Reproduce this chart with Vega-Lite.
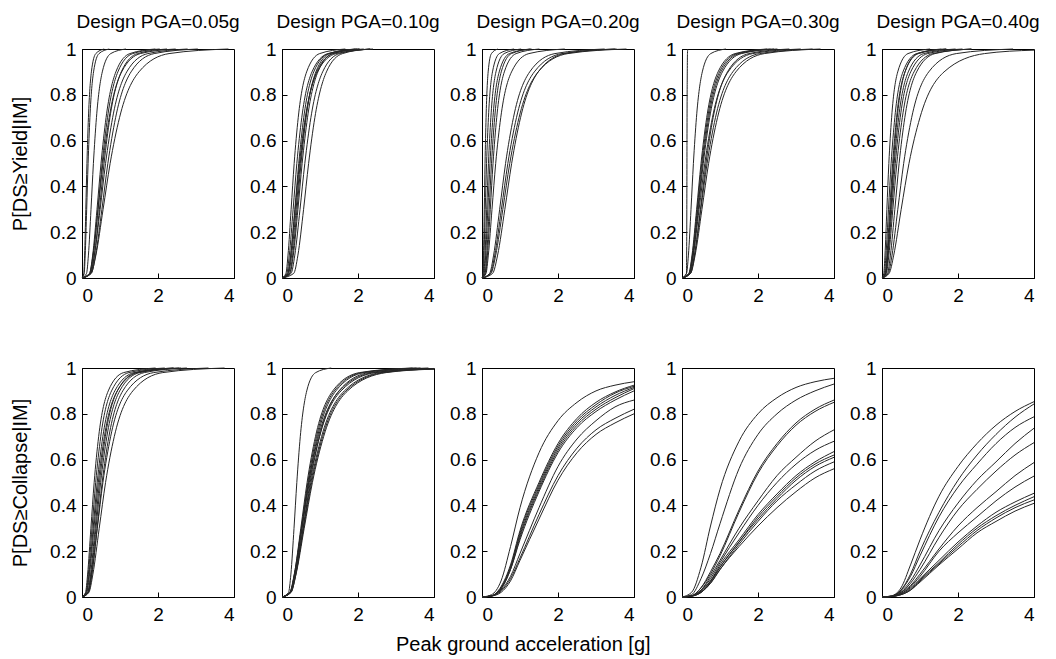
{
"$schema": "https://vega.github.io/schema/vega-lite/v6.json",
"background": "white",
"padding": {"left": 10, "top": 12, "right": 5, "bottom": 5},
"config": {
  "font": "Liberation Sans",
  "view": {"stroke": "black", "strokeWidth": 1},
  "axis": {"grid": false, "domainColor": "black", "domainWidth": 1, "tickColor": "black", "tickSize": -5, "labelColor": "black", "labelFont": "Liberation Sans", "labelFontSize": 19, "titleFont": "Liberation Sans", "titleFontSize": 20, "titleFontWeight": "normal", "titleColor": "black", "titlePadding": 19},
  "axisX": {"labelPadding": 13},
  "axisY": {"labelPadding": 11},
  "title": {"font": "Liberation Sans", "fontSize": 19, "fontWeight": "normal", "color": "black", "frame": "group", "offset": 8},
  "line": {"stroke": "#262626", "strokeWidth": 1, "interpolate": "monotone"}
},
"datasets": {
"Y1": [
{"c":1,"x":0,"y":0},{"c":1,"x":0.047,"y":0.02},{"c":1,"x":0.069,"y":0.1},{"c":1,"x":0.1,"y":0.3},{"c":1,"x":0.13,"y":0.5},{"c":1,"x":0.169,"y":0.7},{"c":1,"x":0.247,"y":0.9},{"c":1,"x":0.363,"y":0.98},{"c":1,"x":0.583,"y":1},
{"c":2,"x":0,"y":0},{"c":2,"x":0.057,"y":0.02},{"c":2,"x":0.084,"y":0.1},{"c":2,"x":0.123,"y":0.3},{"c":2,"x":0.16,"y":0.5},{"c":2,"x":0.208,"y":0.7},{"c":2,"x":0.304,"y":0.9},{"c":2,"x":0.447,"y":0.98},{"c":2,"x":0.717,"y":1},
{"c":3,"x":0,"y":0},{"c":3,"x":0.119,"y":0.02},{"c":3,"x":0.169,"y":0.1},{"c":3,"x":0.237,"y":0.3},{"c":3,"x":0.3,"y":0.5},{"c":3,"x":0.38,"y":0.7},{"c":3,"x":0.534,"y":0.9},{"c":3,"x":0.756,"y":0.98},{"c":3,"x":1.157,"y":1},
{"c":4,"x":0,"y":0},{"c":4,"x":0.199,"y":0.02},{"c":4,"x":0.281,"y":0.1},{"c":4,"x":0.395,"y":0.3},{"c":4,"x":0.5,"y":0.5},{"c":4,"x":0.633,"y":0.7},{"c":4,"x":0.891,"y":0.9},{"c":4,"x":1.26,"y":0.98},{"c":4,"x":1.929,"y":1},
{"c":5,"x":0,"y":0},{"c":5,"x":0.21,"y":0.02},{"c":5,"x":0.298,"y":0.1},{"c":5,"x":0.419,"y":0.3},{"c":5,"x":0.53,"y":0.5},{"c":5,"x":0.671,"y":0.7},{"c":5,"x":0.944,"y":0.9},{"c":5,"x":1.335,"y":0.98},{"c":5,"x":2.044,"y":1},
{"c":6,"x":0,"y":0},{"c":6,"x":0.197,"y":0.02},{"c":6,"x":0.29,"y":0.1},{"c":6,"x":0.424,"y":0.3},{"c":6,"x":0.55,"y":0.5},{"c":6,"x":0.715,"y":0.7},{"c":6,"x":1.044,"y":0.9},{"c":6,"x":1.536,"y":0.98},{"c":6,"x":2.465,"y":1},
{"c":7,"x":0,"y":0},{"c":7,"x":0.23,"y":0.02},{"c":7,"x":0.326,"y":0.1},{"c":7,"x":0.458,"y":0.3},{"c":7,"x":0.58,"y":0.5},{"c":7,"x":0.734,"y":0.7},{"c":7,"x":1.033,"y":0.9},{"c":7,"x":1.461,"y":0.98},{"c":7,"x":2.237,"y":1},
{"c":8,"x":0,"y":0},{"c":8,"x":0.222,"y":0.02},{"c":8,"x":0.327,"y":0.1},{"c":8,"x":0.477,"y":0.3},{"c":8,"x":0.62,"y":0.5},{"c":8,"x":0.806,"y":0.7},{"c":8,"x":1.177,"y":0.9},{"c":8,"x":1.732,"y":0.98},{"c":8,"x":2.779,"y":1},
{"c":9,"x":0,"y":0},{"c":9,"x":0.243,"y":0.02},{"c":9,"x":0.358,"y":0.1},{"c":9,"x":0.524,"y":0.3},{"c":9,"x":0.68,"y":0.5},{"c":9,"x":0.884,"y":0.7},{"c":9,"x":1.291,"y":0.9},{"c":9,"x":1.899,"y":0.98},{"c":9,"x":3.048,"y":1},
{"c":10,"x":0,"y":0},{"c":10,"x":0.239,"y":0.02},{"c":10,"x":0.366,"y":0.1},{"c":10,"x":0.555,"y":0.3},{"c":10,"x":0.74,"y":0.5},{"c":10,"x":0.987,"y":0.7},{"c":10,"x":1.498,"y":0.9},{"c":10,"x":2.291,"y":0.98},{"c":10,"x":3.853,"y":1}
],
"Y2": [
{"c":1,"x":0,"y":0},{"c":1,"x":0.103,"y":0.02},{"c":1,"x":0.158,"y":0.1},{"c":1,"x":0.24,"y":0.3},{"c":1,"x":0.32,"y":0.5},{"c":1,"x":0.427,"y":0.7},{"c":1,"x":0.648,"y":0.9},{"c":1,"x":0.991,"y":0.98},{"c":1,"x":1.666,"y":1},
{"c":2,"x":0,"y":0},{"c":2,"x":0.126,"y":0.02},{"c":2,"x":0.193,"y":0.1},{"c":2,"x":0.293,"y":0.3},{"c":2,"x":0.39,"y":0.5},{"c":2,"x":0.52,"y":0.7},{"c":2,"x":0.789,"y":0.9},{"c":2,"x":1.207,"y":0.98},{"c":2,"x":2.031,"y":1},
{"c":3,"x":0,"y":0},{"c":3,"x":0.158,"y":0.02},{"c":3,"x":0.232,"y":0.1},{"c":3,"x":0.339,"y":0.3},{"c":3,"x":0.44,"y":0.5},{"c":3,"x":0.572,"y":0.7},{"c":3,"x":0.835,"y":0.9},{"c":3,"x":1.229,"y":0.98},{"c":3,"x":1.972,"y":1},
{"c":4,"x":0,"y":0},{"c":4,"x":0.149,"y":0.02},{"c":4,"x":0.227,"y":0.1},{"c":4,"x":0.345,"y":0.3},{"c":4,"x":0.46,"y":0.5},{"c":4,"x":0.614,"y":0.7},{"c":4,"x":0.931,"y":0.9},{"c":4,"x":1.424,"y":0.98},{"c":4,"x":2.395,"y":1},
{"c":5,"x":0,"y":0},{"c":5,"x":0.172,"y":0.02},{"c":5,"x":0.253,"y":0.1},{"c":5,"x":0.37,"y":0.3},{"c":5,"x":0.48,"y":0.5},{"c":5,"x":0.624,"y":0.7},{"c":5,"x":0.911,"y":0.9},{"c":5,"x":1.341,"y":0.98},{"c":5,"x":2.151,"y":1},
{"c":6,"x":0,"y":0},{"c":6,"x":0.199,"y":0.02},{"c":6,"x":0.281,"y":0.1},{"c":6,"x":0.395,"y":0.3},{"c":6,"x":0.5,"y":0.5},{"c":6,"x":0.633,"y":0.7},{"c":6,"x":0.891,"y":0.9},{"c":6,"x":1.26,"y":0.98},{"c":6,"x":1.929,"y":1},
{"c":7,"x":0,"y":0},{"c":7,"x":0.21,"y":0.02},{"c":7,"x":0.298,"y":0.1},{"c":7,"x":0.419,"y":0.3},{"c":7,"x":0.53,"y":0.5},{"c":7,"x":0.671,"y":0.7},{"c":7,"x":0.944,"y":0.9},{"c":7,"x":1.335,"y":0.98},{"c":7,"x":2.044,"y":1},
{"c":8,"x":0,"y":0},{"c":8,"x":0.238,"y":0.02},{"c":8,"x":0.337,"y":0.1},{"c":8,"x":0.474,"y":0.3},{"c":8,"x":0.6,"y":0.5},{"c":8,"x":0.76,"y":0.7},{"c":8,"x":1.069,"y":0.9},{"c":8,"x":1.511,"y":0.98},{"c":8,"x":2.314,"y":1},
{"c":9,"x":0,"y":0},{"c":9,"x":0.308,"y":0.02},{"c":9,"x":0.419,"y":0.1},{"c":9,"x":0.568,"y":0.3},{"c":9,"x":0.7,"y":0.5},{"c":9,"x":0.864,"y":0.7},{"c":9,"x":1.169,"y":0.9},{"c":9,"x":1.593,"y":0.98},{"c":9,"x":2.324,"y":1}
],
"Y3": [
{"c":1,"x":0,"y":0},{"c":1,"x":0.026,"y":0.02},{"c":1,"x":0.04,"y":0.1},{"c":1,"x":0.06,"y":0.3},{"c":1,"x":0.08,"y":0.5},{"c":1,"x":0.107,"y":0.7},{"c":1,"x":0.162,"y":0.9},{"c":1,"x":0.248,"y":0.98},{"c":1,"x":0.417,"y":1},
{"c":2,"x":0,"y":0},{"c":2,"x":0.032,"y":0.02},{"c":2,"x":0.052,"y":0.1},{"c":2,"x":0.085,"y":0.3},{"c":2,"x":0.12,"y":0.5},{"c":2,"x":0.169,"y":0.7},{"c":2,"x":0.276,"y":0.9},{"c":2,"x":0.456,"y":0.98},{"c":2,"x":0.843,"y":1},
{"c":3,"x":0,"y":0},{"c":3,"x":0.05,"y":0.02},{"c":3,"x":0.079,"y":0.1},{"c":3,"x":0.124,"y":0.3},{"c":3,"x":0.17,"y":0.5},{"c":3,"x":0.233,"y":0.7},{"c":3,"x":0.367,"y":0.9},{"c":3,"x":0.583,"y":0.98},{"c":3,"x":1.029,"y":1},
{"c":4,"x":0,"y":0},{"c":4,"x":0.061,"y":0.02},{"c":4,"x":0.097,"y":0.1},{"c":4,"x":0.153,"y":0.3},{"c":4,"x":0.21,"y":0.5},{"c":4,"x":0.287,"y":0.7},{"c":4,"x":0.453,"y":0.9},{"c":4,"x":0.72,"y":0.98},{"c":4,"x":1.271,"y":1},
{"c":5,"x":0,"y":0},{"c":5,"x":0.081,"y":0.02},{"c":5,"x":0.124,"y":0.1},{"c":5,"x":0.188,"y":0.3},{"c":5,"x":0.25,"y":0.5},{"c":5,"x":0.334,"y":0.7},{"c":5,"x":0.506,"y":0.9},{"c":5,"x":0.774,"y":0.98},{"c":5,"x":1.302,"y":1},
{"c":6,"x":0,"y":0},{"c":6,"x":0.094,"y":0.02},{"c":6,"x":0.143,"y":0.1},{"c":6,"x":0.218,"y":0.3},{"c":6,"x":0.29,"y":0.5},{"c":6,"x":0.387,"y":0.7},{"c":6,"x":0.587,"y":0.9},{"c":6,"x":0.898,"y":0.98},{"c":6,"x":1.51,"y":1},
{"c":7,"x":0,"y":0},{"c":7,"x":0.105,"y":0.02},{"c":7,"x":0.167,"y":0.1},{"c":7,"x":0.263,"y":0.3},{"c":7,"x":0.36,"y":0.5},{"c":7,"x":0.493,"y":0.7},{"c":7,"x":0.777,"y":0.9},{"c":7,"x":1.234,"y":0.98},{"c":7,"x":2.178,"y":1},
{"c":8,"x":0,"y":0},{"c":8,"x":0.2,"y":0.02},{"c":8,"x":0.306,"y":0.1},{"c":8,"x":0.465,"y":0.3},{"c":8,"x":0.62,"y":0.5},{"c":8,"x":0.827,"y":0.7},{"c":8,"x":1.255,"y":0.9},{"c":8,"x":1.92,"y":0.98},{"c":8,"x":3.228,"y":1},
{"c":9,"x":0,"y":0},{"c":9,"x":0.22,"y":0.02},{"c":9,"x":0.336,"y":0.1},{"c":9,"x":0.51,"y":0.3},{"c":9,"x":0.68,"y":0.5},{"c":9,"x":0.907,"y":0.7},{"c":9,"x":1.376,"y":0.9},{"c":9,"x":2.105,"y":0.98},{"c":9,"x":3.541,"y":1},
{"c":10,"x":0,"y":0},{"c":10,"x":0.236,"y":0.02},{"c":10,"x":0.361,"y":0.1},{"c":10,"x":0.548,"y":0.3},{"c":10,"x":0.73,"y":0.5},{"c":10,"x":0.974,"y":0.7},{"c":10,"x":1.478,"y":0.9},{"c":10,"x":2.26,"y":0.98},{"c":10,"x":3.801,"y":1},
{"c":11,"x":0,"y":0},{"c":11,"x":0.279,"y":0.02},{"c":11,"x":0.411,"y":0.1},{"c":11,"x":0.601,"y":0.3},{"c":11,"x":0.78,"y":0.5},{"c":11,"x":1.014,"y":0.7},{"c":11,"x":1.48,"y":0.9},{"c":11,"x":2.179,"y":0.98},{"c":11,"x":3.496,"y":1}
],
"Y4": [
{"c":1,"x":0,"y":0},{"c":1,"x":0.117,"y":0.02},{"c":1,"x":0.122,"y":0.1},{"c":1,"x":0.127,"y":0.3},{"c":1,"x":0.13,"y":0.5},{"c":1,"x":0.133,"y":0.7},{"c":1,"x":0.139,"y":0.9},{"c":1,"x":0.144,"y":0.98},{"c":1,"x":0.151,"y":1},
{"c":2,"x":0,"y":0},{"c":2,"x":0.119,"y":0.02},{"c":2,"x":0.169,"y":0.1},{"c":2,"x":0.237,"y":0.3},{"c":2,"x":0.3,"y":0.5},{"c":2,"x":0.38,"y":0.7},{"c":2,"x":0.534,"y":0.9},{"c":2,"x":0.756,"y":0.98},{"c":2,"x":1.157,"y":1},
{"c":3,"x":0,"y":0},{"c":3,"x":0.179,"y":0.02},{"c":3,"x":0.264,"y":0.1},{"c":3,"x":0.385,"y":0.3},{"c":3,"x":0.5,"y":0.5},{"c":3,"x":0.65,"y":0.7},{"c":3,"x":0.949,"y":0.9},{"c":3,"x":1.397,"y":0.98},{"c":3,"x":2.241,"y":1},
{"c":4,"x":0,"y":0},{"c":4,"x":0.186,"y":0.02},{"c":4,"x":0.274,"y":0.1},{"c":4,"x":0.4,"y":0.3},{"c":4,"x":0.52,"y":0.5},{"c":4,"x":0.676,"y":0.7},{"c":4,"x":0.987,"y":0.9},{"c":4,"x":1.452,"y":0.98},{"c":4,"x":2.331,"y":1},
{"c":5,"x":0,"y":0},{"c":5,"x":0.193,"y":0.02},{"c":5,"x":0.285,"y":0.1},{"c":5,"x":0.416,"y":0.3},{"c":5,"x":0.54,"y":0.5},{"c":5,"x":0.702,"y":0.7},{"c":5,"x":1.025,"y":0.9},{"c":5,"x":1.508,"y":0.98},{"c":5,"x":2.42,"y":1},
{"c":6,"x":0,"y":0},{"c":6,"x":0.2,"y":0.02},{"c":6,"x":0.295,"y":0.1},{"c":6,"x":0.431,"y":0.3},{"c":6,"x":0.56,"y":0.5},{"c":6,"x":0.728,"y":0.7},{"c":6,"x":1.063,"y":0.9},{"c":6,"x":1.564,"y":0.98},{"c":6,"x":2.51,"y":1},
{"c":7,"x":0,"y":0},{"c":7,"x":0.194,"y":0.02},{"c":7,"x":0.296,"y":0.1},{"c":7,"x":0.45,"y":0.3},{"c":7,"x":0.6,"y":0.5},{"c":7,"x":0.8,"y":0.7},{"c":7,"x":1.214,"y":0.9},{"c":7,"x":1.858,"y":0.98},{"c":7,"x":3.124,"y":1},
{"c":8,"x":0,"y":0},{"c":8,"x":0.226,"y":0.02},{"c":8,"x":0.332,"y":0.1},{"c":8,"x":0.485,"y":0.3},{"c":8,"x":0.63,"y":0.5},{"c":8,"x":0.819,"y":0.7},{"c":8,"x":1.196,"y":0.9},{"c":8,"x":1.76,"y":0.98},{"c":8,"x":2.824,"y":1},
{"c":9,"x":0,"y":0},{"c":9,"x":0.213,"y":0.02},{"c":9,"x":0.326,"y":0.1},{"c":9,"x":0.495,"y":0.3},{"c":9,"x":0.66,"y":0.5},{"c":9,"x":0.88,"y":0.7},{"c":9,"x":1.336,"y":0.9},{"c":9,"x":2.043,"y":0.98},{"c":9,"x":3.437,"y":1},
{"c":10,"x":0,"y":0},{"c":10,"x":0.226,"y":0.02},{"c":10,"x":0.346,"y":0.1},{"c":10,"x":0.525,"y":0.3},{"c":10,"x":0.7,"y":0.5},{"c":10,"x":0.934,"y":0.7},{"c":10,"x":1.417,"y":0.9},{"c":10,"x":2.167,"y":0.98},{"c":10,"x":3.645,"y":1}
],
"Y5": [
{"c":1,"x":0,"y":0},{"c":1,"x":0.047,"y":0.02},{"c":1,"x":0.078,"y":0.1},{"c":1,"x":0.128,"y":0.3},{"c":1,"x":0.18,"y":0.5},{"c":1,"x":0.253,"y":0.7},{"c":1,"x":0.414,"y":0.9},{"c":1,"x":0.684,"y":0.98},{"c":1,"x":1.265,"y":1},
{"c":2,"x":0,"y":0},{"c":2,"x":0.063,"y":0.02},{"c":2,"x":0.104,"y":0.1},{"c":2,"x":0.171,"y":0.3},{"c":2,"x":0.24,"y":0.5},{"c":2,"x":0.337,"y":0.7},{"c":2,"x":0.552,"y":0.9},{"c":2,"x":0.912,"y":0.98},{"c":2,"x":1.687,"y":1},
{"c":3,"x":0,"y":0},{"c":3,"x":0.082,"y":0.02},{"c":3,"x":0.13,"y":0.1},{"c":3,"x":0.204,"y":0.3},{"c":3,"x":0.28,"y":0.5},{"c":3,"x":0.383,"y":0.7},{"c":3,"x":0.604,"y":0.9},{"c":3,"x":0.96,"y":0.98},{"c":3,"x":1.694,"y":1},
{"c":4,"x":0,"y":0},{"c":4,"x":0.097,"y":0.02},{"c":4,"x":0.148,"y":0.1},{"c":4,"x":0.225,"y":0.3},{"c":4,"x":0.3,"y":0.5},{"c":4,"x":0.4,"y":0.7},{"c":4,"x":0.607,"y":0.9},{"c":4,"x":0.929,"y":0.98},{"c":4,"x":1.562,"y":1},
{"c":5,"x":0,"y":0},{"c":5,"x":0.093,"y":0.02},{"c":5,"x":0.148,"y":0.1},{"c":5,"x":0.234,"y":0.3},{"c":5,"x":0.32,"y":0.5},{"c":5,"x":0.438,"y":0.7},{"c":5,"x":0.691,"y":0.9},{"c":5,"x":1.097,"y":0.98},{"c":5,"x":1.936,"y":1},
{"c":6,"x":0,"y":0},{"c":6,"x":0.102,"y":0.02},{"c":6,"x":0.162,"y":0.1},{"c":6,"x":0.256,"y":0.3},{"c":6,"x":0.35,"y":0.5},{"c":6,"x":0.479,"y":0.7},{"c":6,"x":0.755,"y":0.9},{"c":6,"x":1.2,"y":0.98},{"c":6,"x":2.118,"y":1},
{"c":7,"x":0,"y":0},{"c":7,"x":0.114,"y":0.02},{"c":7,"x":0.181,"y":0.1},{"c":7,"x":0.285,"y":0.3},{"c":7,"x":0.39,"y":0.5},{"c":7,"x":0.534,"y":0.7},{"c":7,"x":0.842,"y":0.9},{"c":7,"x":1.337,"y":0.98},{"c":7,"x":2.36,"y":1},
{"c":8,"x":0,"y":0},{"c":8,"x":0.145,"y":0.02},{"c":8,"x":0.222,"y":0.1},{"c":8,"x":0.338,"y":0.3},{"c":8,"x":0.45,"y":0.5},{"c":8,"x":0.6,"y":0.7},{"c":8,"x":0.911,"y":0.9},{"c":8,"x":1.393,"y":0.98},{"c":8,"x":2.343,"y":1},
{"c":9,"x":0,"y":0},{"c":9,"x":0.166,"y":0.02},{"c":9,"x":0.264,"y":0.1},{"c":9,"x":0.416,"y":0.3},{"c":9,"x":0.57,"y":0.5},{"c":9,"x":0.78,"y":0.7},{"c":9,"x":1.23,"y":0.9},{"c":9,"x":1.955,"y":0.98},{"c":9,"x":3.449,"y":1},
{"c":10,"x":0,"y":0},{"c":10,"x":0.187,"y":0.02},{"c":10,"x":0.309,"y":0.1},{"c":10,"x":0.505,"y":0.3},{"c":10,"x":0.71,"y":0.5},{"c":10,"x":0.998,"y":0.7},{"c":10,"x":1.633,"y":0.9},{"c":10,"x":2.698,"y":0.98},{"c":10,"x":4,"y":0.995}
],
"C1": [
{"c":1,"x":0,"y":0},{"c":1,"x":0.093,"y":0.02},{"c":1,"x":0.148,"y":0.1},{"c":1,"x":0.234,"y":0.3},{"c":1,"x":0.32,"y":0.5},{"c":1,"x":0.438,"y":0.7},{"c":1,"x":0.691,"y":0.9},{"c":1,"x":1.097,"y":0.98},{"c":1,"x":1.936,"y":1},
{"c":2,"x":0,"y":0},{"c":2,"x":0.105,"y":0.02},{"c":2,"x":0.167,"y":0.1},{"c":2,"x":0.263,"y":0.3},{"c":2,"x":0.36,"y":0.5},{"c":2,"x":0.493,"y":0.7},{"c":2,"x":0.777,"y":0.9},{"c":2,"x":1.234,"y":0.98},{"c":2,"x":2.178,"y":1},
{"c":3,"x":0,"y":0},{"c":3,"x":0.117,"y":0.02},{"c":3,"x":0.185,"y":0.1},{"c":3,"x":0.292,"y":0.3},{"c":3,"x":0.4,"y":0.5},{"c":3,"x":0.548,"y":0.7},{"c":3,"x":0.863,"y":0.9},{"c":3,"x":1.372,"y":0.98},{"c":3,"x":2.42,"y":1},
{"c":4,"x":0,"y":0},{"c":4,"x":0.126,"y":0.02},{"c":4,"x":0.199,"y":0.1},{"c":4,"x":0.314,"y":0.3},{"c":4,"x":0.43,"y":0.5},{"c":4,"x":0.589,"y":0.7},{"c":4,"x":0.928,"y":0.9},{"c":4,"x":1.474,"y":0.98},{"c":4,"x":2.602,"y":1},
{"c":5,"x":0,"y":0},{"c":5,"x":0.149,"y":0.02},{"c":5,"x":0.227,"y":0.1},{"c":5,"x":0.345,"y":0.3},{"c":5,"x":0.46,"y":0.5},{"c":5,"x":0.614,"y":0.7},{"c":5,"x":0.931,"y":0.9},{"c":5,"x":1.424,"y":0.98},{"c":5,"x":2.395,"y":1},
{"c":6,"x":0,"y":0},{"c":6,"x":0.158,"y":0.02},{"c":6,"x":0.242,"y":0.1},{"c":6,"x":0.368,"y":0.3},{"c":6,"x":0.49,"y":0.5},{"c":6,"x":0.654,"y":0.7},{"c":6,"x":0.992,"y":0.9},{"c":6,"x":1.517,"y":0.98},{"c":6,"x":2.551,"y":1},
{"c":7,"x":0,"y":0},{"c":7,"x":0.171,"y":0.02},{"c":7,"x":0.262,"y":0.1},{"c":7,"x":0.398,"y":0.3},{"c":7,"x":0.53,"y":0.5},{"c":7,"x":0.707,"y":0.7},{"c":7,"x":1.073,"y":0.9},{"c":7,"x":1.641,"y":0.98},{"c":7,"x":2.76,"y":1},
{"c":8,"x":0,"y":0},{"c":8,"x":0.161,"y":0.02},{"c":8,"x":0.255,"y":0.1},{"c":8,"x":0.402,"y":0.3},{"c":8,"x":0.55,"y":0.5},{"c":8,"x":0.753,"y":0.7},{"c":8,"x":1.187,"y":0.9},{"c":8,"x":1.886,"y":0.98},{"c":8,"x":3.328,"y":1},
{"c":9,"x":0,"y":0},{"c":9,"x":0.181,"y":0.02},{"c":9,"x":0.287,"y":0.1},{"c":9,"x":0.453,"y":0.3},{"c":9,"x":0.62,"y":0.5},{"c":9,"x":0.849,"y":0.7},{"c":9,"x":1.338,"y":0.9},{"c":9,"x":2.126,"y":0.98},{"c":9,"x":3.751,"y":1}
],
"C2": [
{"c":1,"x":0,"y":0},{"c":1,"x":0.172,"y":0.02},{"c":1,"x":0.234,"y":0.1},{"c":1,"x":0.316,"y":0.3},{"c":1,"x":0.39,"y":0.5},{"c":1,"x":0.481,"y":0.7},{"c":1,"x":0.651,"y":0.9},{"c":1,"x":0.887,"y":0.98},{"c":1,"x":1.295,"y":1},
{"c":2,"x":0,"y":0},{"c":2,"x":0.213,"y":0.02},{"c":2,"x":0.326,"y":0.1},{"c":2,"x":0.495,"y":0.3},{"c":2,"x":0.66,"y":0.5},{"c":2,"x":0.88,"y":0.7},{"c":2,"x":1.336,"y":0.9},{"c":2,"x":2.043,"y":0.98},{"c":2,"x":3.437,"y":1},
{"c":3,"x":0,"y":0},{"c":3,"x":0.22,"y":0.02},{"c":3,"x":0.336,"y":0.1},{"c":3,"x":0.51,"y":0.3},{"c":3,"x":0.68,"y":0.5},{"c":3,"x":0.907,"y":0.7},{"c":3,"x":1.376,"y":0.9},{"c":3,"x":2.105,"y":0.98},{"c":3,"x":3.541,"y":1},
{"c":4,"x":0,"y":0},{"c":4,"x":0.226,"y":0.02},{"c":4,"x":0.346,"y":0.1},{"c":4,"x":0.525,"y":0.3},{"c":4,"x":0.7,"y":0.5},{"c":4,"x":0.934,"y":0.7},{"c":4,"x":1.417,"y":0.9},{"c":4,"x":2.167,"y":0.98},{"c":4,"x":3.645,"y":1},
{"c":5,"x":0,"y":0},{"c":5,"x":0.204,"y":0.02},{"c":5,"x":0.324,"y":0.1},{"c":5,"x":0.511,"y":0.3},{"c":5,"x":0.7,"y":0.5},{"c":5,"x":0.958,"y":0.7},{"c":5,"x":1.511,"y":0.9},{"c":5,"x":2.4,"y":0.98},{"c":5,"x":4,"y":0.998},
{"c":6,"x":0,"y":0},{"c":6,"x":0.21,"y":0.02},{"c":6,"x":0.333,"y":0.1},{"c":6,"x":0.526,"y":0.3},{"c":6,"x":0.72,"y":0.5},{"c":6,"x":0.986,"y":0.7},{"c":6,"x":1.554,"y":0.9},{"c":6,"x":2.469,"y":0.98},{"c":6,"x":4,"y":0.997},
{"c":7,"x":0,"y":0},{"c":7,"x":0.239,"y":0.02},{"c":7,"x":0.366,"y":0.1},{"c":7,"x":0.555,"y":0.3},{"c":7,"x":0.74,"y":0.5},{"c":7,"x":0.987,"y":0.7},{"c":7,"x":1.498,"y":0.9},{"c":7,"x":2.291,"y":0.98},{"c":7,"x":3.853,"y":1},
{"c":8,"x":0,"y":0},{"c":8,"x":0.222,"y":0.02},{"c":8,"x":0.352,"y":0.1},{"c":8,"x":0.555,"y":0.3},{"c":8,"x":0.76,"y":0.5},{"c":8,"x":1.04,"y":0.7},{"c":8,"x":1.64,"y":0.9},{"c":8,"x":2.606,"y":0.98},{"c":8,"x":4,"y":0.996},
{"c":9,"x":0,"y":0},{"c":9,"x":0.228,"y":0.02},{"c":9,"x":0.361,"y":0.1},{"c":9,"x":0.569,"y":0.3},{"c":9,"x":0.78,"y":0.5},{"c":9,"x":1.068,"y":0.7},{"c":9,"x":1.683,"y":0.9},{"c":9,"x":2.675,"y":0.98},{"c":9,"x":4,"y":0.996},
{"c":10,"x":0,"y":0},{"c":10,"x":0.234,"y":0.02},{"c":10,"x":0.37,"y":0.1},{"c":10,"x":0.584,"y":0.3},{"c":10,"x":0.8,"y":0.5},{"c":10,"x":1.095,"y":0.7},{"c":10,"x":1.726,"y":0.9},{"c":10,"x":2.743,"y":0.98},{"c":10,"x":4,"y":0.995}
],
"C3": [
{"c":1,"x":0,"y":0},{"c":1,"x":0.25,"y":0.01},{"c":1,"x":0.5,"y":0.07},{"c":1,"x":0.75,"y":0.22},{"c":1,"x":1,"y":0.39},{"c":1,"x":1.5,"y":0.63},{"c":1,"x":2,"y":0.77},{"c":1,"x":2.5,"y":0.85},{"c":1,"x":3,"y":0.9},{"c":1,"x":3.5,"y":0.925},{"c":1,"x":4,"y":0.94},
{"c":2,"x":0,"y":0},{"c":2,"x":0.25,"y":0.005},{"c":2,"x":0.5,"y":0.045},{"c":2,"x":0.75,"y":0.14},{"c":2,"x":1,"y":0.29},{"c":2,"x":1.5,"y":0.5},{"c":2,"x":2,"y":0.67},{"c":2,"x":2.5,"y":0.78},{"c":2,"x":3,"y":0.85},{"c":2,"x":3.5,"y":0.895},{"c":2,"x":4,"y":0.925},
{"c":3,"x":0,"y":0},{"c":3,"x":0.25,"y":0.005},{"c":3,"x":0.5,"y":0.04},{"c":3,"x":0.75,"y":0.13},{"c":3,"x":1,"y":0.28},{"c":3,"x":1.5,"y":0.49},{"c":3,"x":2,"y":0.66},{"c":3,"x":2.5,"y":0.77},{"c":3,"x":3,"y":0.84},{"c":3,"x":3.5,"y":0.89},{"c":3,"x":4,"y":0.92},
{"c":4,"x":0,"y":0},{"c":4,"x":0.25,"y":0.005},{"c":4,"x":0.5,"y":0.04},{"c":4,"x":0.75,"y":0.13},{"c":4,"x":1,"y":0.27},{"c":4,"x":1.5,"y":0.48},{"c":4,"x":2,"y":0.65},{"c":4,"x":2.5,"y":0.76},{"c":4,"x":3,"y":0.83},{"c":4,"x":3.5,"y":0.88},{"c":4,"x":4,"y":0.915},
{"c":5,"x":0,"y":0},{"c":5,"x":0.25,"y":0.005},{"c":5,"x":0.5,"y":0.035},{"c":5,"x":0.75,"y":0.12},{"c":5,"x":1,"y":0.26},{"c":5,"x":1.5,"y":0.47},{"c":5,"x":2,"y":0.64},{"c":5,"x":2.5,"y":0.75},{"c":5,"x":3,"y":0.82},{"c":5,"x":3.5,"y":0.87},{"c":5,"x":4,"y":0.91},
{"c":6,"x":0,"y":0},{"c":6,"x":0.25,"y":0.005},{"c":6,"x":0.5,"y":0.035},{"c":6,"x":0.75,"y":0.12},{"c":6,"x":1,"y":0.25},{"c":6,"x":1.5,"y":0.46},{"c":6,"x":2,"y":0.63},{"c":6,"x":2.5,"y":0.74},{"c":6,"x":3,"y":0.81},{"c":6,"x":3.5,"y":0.86},{"c":6,"x":4,"y":0.9},
{"c":7,"x":0,"y":0},{"c":7,"x":0.25,"y":0.004},{"c":7,"x":0.5,"y":0.03},{"c":7,"x":0.75,"y":0.09},{"c":7,"x":1,"y":0.19},{"c":7,"x":1.5,"y":0.39},{"c":7,"x":2,"y":0.57},{"c":7,"x":2.5,"y":0.69},{"c":7,"x":3,"y":0.77},{"c":7,"x":3.5,"y":0.83},{"c":7,"x":4,"y":0.86},
{"c":8,"x":0,"y":0},{"c":8,"x":0.25,"y":0.004},{"c":8,"x":0.5,"y":0.025},{"c":8,"x":0.75,"y":0.08},{"c":8,"x":1,"y":0.17},{"c":8,"x":1.5,"y":0.36},{"c":8,"x":2,"y":0.53},{"c":8,"x":2.5,"y":0.65},{"c":8,"x":3,"y":0.73},{"c":8,"x":3.5,"y":0.78},{"c":8,"x":4,"y":0.82},
{"c":9,"x":0,"y":0},{"c":9,"x":0.25,"y":0.004},{"c":9,"x":0.5,"y":0.02},{"c":9,"x":0.75,"y":0.07},{"c":9,"x":1,"y":0.16},{"c":9,"x":1.5,"y":0.34},{"c":9,"x":2,"y":0.51},{"c":9,"x":2.5,"y":0.63},{"c":9,"x":3,"y":0.71},{"c":9,"x":3.5,"y":0.76},{"c":9,"x":4,"y":0.8}
],
"C4": [
{"c":1,"x":0,"y":0},{"c":1,"x":0.25,"y":0.02},{"c":1,"x":0.5,"y":0.13},{"c":1,"x":0.75,"y":0.31},{"c":1,"x":1,"y":0.47},{"c":1,"x":1.5,"y":0.68},{"c":1,"x":2,"y":0.8},{"c":1,"x":2.5,"y":0.87},{"c":1,"x":3,"y":0.915},{"c":1,"x":3.5,"y":0.94},{"c":1,"x":4,"y":0.955},
{"c":2,"x":0,"y":0},{"c":2,"x":0.25,"y":0.01},{"c":2,"x":0.5,"y":0.08},{"c":2,"x":0.75,"y":0.19},{"c":2,"x":1,"y":0.32},{"c":2,"x":1.5,"y":0.56},{"c":2,"x":2,"y":0.71},{"c":2,"x":2.5,"y":0.8},{"c":2,"x":3,"y":0.86},{"c":2,"x":3.5,"y":0.9},{"c":2,"x":4,"y":0.93},
{"c":3,"x":0,"y":0},{"c":3,"x":0.25,"y":0.005},{"c":3,"x":0.5,"y":0.04},{"c":3,"x":0.75,"y":0.11},{"c":3,"x":1,"y":0.19},{"c":3,"x":1.5,"y":0.38},{"c":3,"x":2,"y":0.55},{"c":3,"x":2.5,"y":0.67},{"c":3,"x":3,"y":0.76},{"c":3,"x":3.5,"y":0.82},{"c":3,"x":4,"y":0.86},
{"c":4,"x":0,"y":0},{"c":4,"x":0.25,"y":0.005},{"c":4,"x":0.5,"y":0.04},{"c":4,"x":0.75,"y":0.1},{"c":4,"x":1,"y":0.18},{"c":4,"x":1.5,"y":0.37},{"c":4,"x":2,"y":0.54},{"c":4,"x":2.5,"y":0.66},{"c":4,"x":3,"y":0.75},{"c":4,"x":3.5,"y":0.81},{"c":4,"x":4,"y":0.85},
{"c":5,"x":0,"y":0},{"c":5,"x":0.25,"y":0.005},{"c":5,"x":0.5,"y":0.03},{"c":5,"x":0.75,"y":0.09},{"c":5,"x":1,"y":0.16},{"c":5,"x":1.5,"y":0.3},{"c":5,"x":2,"y":0.42},{"c":5,"x":2.5,"y":0.53},{"c":5,"x":3,"y":0.61},{"c":5,"x":3.5,"y":0.68},{"c":5,"x":4,"y":0.73},
{"c":6,"x":0,"y":0},{"c":6,"x":0.25,"y":0.005},{"c":6,"x":0.5,"y":0.03},{"c":6,"x":0.75,"y":0.08},{"c":6,"x":1,"y":0.15},{"c":6,"x":1.5,"y":0.28},{"c":6,"x":2,"y":0.4},{"c":6,"x":2.5,"y":0.5},{"c":6,"x":3,"y":0.58},{"c":6,"x":3.5,"y":0.64},{"c":6,"x":4,"y":0.68},
{"c":7,"x":0,"y":0},{"c":7,"x":0.25,"y":0.004},{"c":7,"x":0.5,"y":0.025},{"c":7,"x":0.75,"y":0.07},{"c":7,"x":1,"y":0.14},{"c":7,"x":1.5,"y":0.25},{"c":7,"x":2,"y":0.36},{"c":7,"x":2.5,"y":0.45},{"c":7,"x":3,"y":0.53},{"c":7,"x":3.5,"y":0.59},{"c":7,"x":4,"y":0.635},
{"c":8,"x":0,"y":0},{"c":8,"x":0.25,"y":0.004},{"c":8,"x":0.5,"y":0.025},{"c":8,"x":0.75,"y":0.07},{"c":8,"x":1,"y":0.13},{"c":8,"x":1.5,"y":0.24},{"c":8,"x":2,"y":0.35},{"c":8,"x":2.5,"y":0.44},{"c":8,"x":3,"y":0.52},{"c":8,"x":3.5,"y":0.58},{"c":8,"x":4,"y":0.62},
{"c":9,"x":0,"y":0},{"c":9,"x":0.25,"y":0.004},{"c":9,"x":0.5,"y":0.02},{"c":9,"x":0.75,"y":0.065},{"c":9,"x":1,"y":0.13},{"c":9,"x":1.5,"y":0.24},{"c":9,"x":2,"y":0.34},{"c":9,"x":2.5,"y":0.43},{"c":9,"x":3,"y":0.51},{"c":9,"x":3.5,"y":0.57},{"c":9,"x":4,"y":0.61},
{"c":10,"x":0,"y":0},{"c":10,"x":0.25,"y":0.004},{"c":10,"x":0.5,"y":0.02},{"c":10,"x":0.75,"y":0.06},{"c":10,"x":1,"y":0.12},{"c":10,"x":1.5,"y":0.23},{"c":10,"x":2,"y":0.33},{"c":10,"x":2.5,"y":0.42},{"c":10,"x":3,"y":0.49},{"c":10,"x":3.5,"y":0.55},{"c":10,"x":4,"y":0.59},
{"c":11,"x":0,"y":0},{"c":11,"x":0.25,"y":0.003},{"c":11,"x":0.5,"y":0.02},{"c":11,"x":0.75,"y":0.06},{"c":11,"x":1,"y":0.12},{"c":11,"x":1.5,"y":0.22},{"c":11,"x":2,"y":0.31},{"c":11,"x":2.5,"y":0.39},{"c":11,"x":3,"y":0.46},{"c":11,"x":3.5,"y":0.52},{"c":11,"x":4,"y":0.56}
],
"C5": [
{"c":1,"x":0,"y":0},{"c":1,"x":0.25,"y":0.005},{"c":1,"x":0.5,"y":0.04},{"c":1,"x":0.75,"y":0.14},{"c":1,"x":1,"y":0.25},{"c":1,"x":1.5,"y":0.44},{"c":1,"x":2,"y":0.57},{"c":1,"x":2.5,"y":0.67},{"c":1,"x":3,"y":0.75},{"c":1,"x":3.5,"y":0.81},{"c":1,"x":4,"y":0.853},
{"c":2,"x":0,"y":0},{"c":2,"x":0.25,"y":0.004},{"c":2,"x":0.5,"y":0.03},{"c":2,"x":0.75,"y":0.1},{"c":2,"x":1,"y":0.2},{"c":2,"x":1.5,"y":0.37},{"c":2,"x":2,"y":0.51},{"c":2,"x":2.5,"y":0.62},{"c":2,"x":3,"y":0.71},{"c":2,"x":3.5,"y":0.785},{"c":2,"x":4,"y":0.843},
{"c":3,"x":0,"y":0},{"c":3,"x":0.25,"y":0.004},{"c":3,"x":0.5,"y":0.03},{"c":3,"x":0.75,"y":0.09},{"c":3,"x":1,"y":0.18},{"c":3,"x":1.5,"y":0.35},{"c":3,"x":2,"y":0.48},{"c":3,"x":2.5,"y":0.58},{"c":3,"x":3,"y":0.67},{"c":3,"x":3.5,"y":0.74},{"c":3,"x":4,"y":0.787},
{"c":4,"x":0,"y":0},{"c":4,"x":0.25,"y":0.003},{"c":4,"x":0.5,"y":0.025},{"c":4,"x":0.75,"y":0.07},{"c":4,"x":1,"y":0.14},{"c":4,"x":1.5,"y":0.29},{"c":4,"x":2,"y":0.41},{"c":4,"x":2.5,"y":0.51},{"c":4,"x":3,"y":0.59},{"c":4,"x":3.5,"y":0.67},{"c":4,"x":4,"y":0.737},
{"c":5,"x":0,"y":0},{"c":5,"x":0.25,"y":0.003},{"c":5,"x":0.5,"y":0.02},{"c":5,"x":0.75,"y":0.06},{"c":5,"x":1,"y":0.12},{"c":5,"x":1.5,"y":0.26},{"c":5,"x":2,"y":0.38},{"c":5,"x":2.5,"y":0.47},{"c":5,"x":3,"y":0.55},{"c":5,"x":3.5,"y":0.62},{"c":5,"x":4,"y":0.674},
{"c":6,"x":0,"y":0},{"c":6,"x":0.25,"y":0.003},{"c":6,"x":0.5,"y":0.02},{"c":6,"x":0.75,"y":0.05},{"c":6,"x":1,"y":0.1},{"c":6,"x":1.5,"y":0.21},{"c":6,"x":2,"y":0.31},{"c":6,"x":2.5,"y":0.39},{"c":6,"x":3,"y":0.46},{"c":6,"x":3.5,"y":0.53},{"c":6,"x":4,"y":0.587},
{"c":7,"x":0,"y":0},{"c":7,"x":0.25,"y":0.002},{"c":7,"x":0.5,"y":0.015},{"c":7,"x":0.75,"y":0.045},{"c":7,"x":1,"y":0.09},{"c":7,"x":1.5,"y":0.2},{"c":7,"x":2,"y":0.28},{"c":7,"x":2.5,"y":0.35},{"c":7,"x":3,"y":0.42},{"c":7,"x":3.5,"y":0.48},{"c":7,"x":4,"y":0.528},
{"c":8,"x":0,"y":0},{"c":8,"x":0.25,"y":0.002},{"c":8,"x":0.5,"y":0.015},{"c":8,"x":0.75,"y":0.04},{"c":8,"x":1,"y":0.08},{"c":8,"x":1.5,"y":0.16},{"c":8,"x":2,"y":0.24},{"c":8,"x":2.5,"y":0.31},{"c":8,"x":3,"y":0.37},{"c":8,"x":3.5,"y":0.415},{"c":8,"x":4,"y":0.453},
{"c":9,"x":0,"y":0},{"c":9,"x":0.25,"y":0.002},{"c":9,"x":0.5,"y":0.012},{"c":9,"x":0.75,"y":0.035},{"c":9,"x":1,"y":0.075},{"c":9,"x":1.5,"y":0.15},{"c":9,"x":2,"y":0.23},{"c":9,"x":2.5,"y":0.3},{"c":9,"x":3,"y":0.355},{"c":9,"x":3.5,"y":0.4},{"c":9,"x":4,"y":0.438},
{"c":10,"x":0,"y":0},{"c":10,"x":0.25,"y":0.002},{"c":10,"x":0.5,"y":0.01},{"c":10,"x":0.75,"y":0.03},{"c":10,"x":1,"y":0.07},{"c":10,"x":1.5,"y":0.145},{"c":10,"x":2,"y":0.22},{"c":10,"x":2.5,"y":0.29},{"c":10,"x":3,"y":0.345},{"c":10,"x":3.5,"y":0.39},{"c":10,"x":4,"y":0.424},
{"c":11,"x":0,"y":0},{"c":11,"x":0.25,"y":0.002},{"c":11,"x":0.5,"y":0.01},{"c":11,"x":0.75,"y":0.03},{"c":11,"x":1,"y":0.065},{"c":11,"x":1.5,"y":0.14},{"c":11,"x":2,"y":0.21},{"c":11,"x":2.5,"y":0.28},{"c":11,"x":3,"y":0.33},{"c":11,"x":3.5,"y":0.375},{"c":11,"x":4,"y":0.409}
]
},
"vconcat": [
{"hconcat": [
{"data": {"name": "Y1"}, "title": "Design PGA=0.05g", "width": 152, "height": 229, "mark": "line", "encoding": {"x": {"field": "x", "type": "quantitative", "scale": {"domain": [0, 4]}, "axis": {"values": [0, 2, 4], "title": null}}, "y": {"field": "y", "type": "quantitative", "scale": {"domain": [0, 1]}, "axis": {"values": [0, 0.2, 0.4, 0.6, 0.8, 1], "format": "~g", "title": "P[DS≥Yield|IM]"}}, "detail": {"field": "c", "type": "nominal"}}},
{"data": {"name": "Y2"}, "title": "Design PGA=0.10g", "width": 152, "height": 229, "mark": "line", "encoding": {"x": {"field": "x", "type": "quantitative", "scale": {"domain": [0, 4]}, "axis": {"values": [0, 2, 4], "title": null}}, "y": {"field": "y", "type": "quantitative", "scale": {"domain": [0, 1]}, "axis": {"values": [0, 0.2, 0.4, 0.6, 0.8, 1], "format": "~g", "title": null}}, "detail": {"field": "c", "type": "nominal"}}},
{"data": {"name": "Y3"}, "title": "Design PGA=0.20g", "width": 152, "height": 229, "mark": "line", "encoding": {"x": {"field": "x", "type": "quantitative", "scale": {"domain": [0, 4]}, "axis": {"values": [0, 2, 4], "title": null}}, "y": {"field": "y", "type": "quantitative", "scale": {"domain": [0, 1]}, "axis": {"values": [0, 0.2, 0.4, 0.6, 0.8, 1], "format": "~g", "title": null}}, "detail": {"field": "c", "type": "nominal"}}},
{"data": {"name": "Y4"}, "title": "Design PGA=0.30g", "width": 152, "height": 229, "mark": "line", "encoding": {"x": {"field": "x", "type": "quantitative", "scale": {"domain": [0, 4]}, "axis": {"values": [0, 2, 4], "title": null}}, "y": {"field": "y", "type": "quantitative", "scale": {"domain": [0, 1]}, "axis": {"values": [0, 0.2, 0.4, 0.6, 0.8, 1], "format": "~g", "title": null}}, "detail": {"field": "c", "type": "nominal"}}},
{"data": {"name": "Y5"}, "title": "Design PGA=0.40g", "width": 152, "height": 229, "mark": "line", "encoding": {"x": {"field": "x", "type": "quantitative", "scale": {"domain": [0, 4]}, "axis": {"values": [0, 2, 4], "title": null}}, "y": {"field": "y", "type": "quantitative", "scale": {"domain": [0, 1]}, "axis": {"values": [0, 0.2, 0.4, 0.6, 0.8, 1], "format": "~g", "title": null}}, "detail": {"field": "c", "type": "nominal"}}}
], "spacing": 48, "bounds": "flush"},
{"hconcat": [
{"data": {"name": "C1"}, "width": 152, "height": 229, "mark": "line", "encoding": {"x": {"field": "x", "type": "quantitative", "scale": {"domain": [0, 4]}, "axis": {"values": [0, 2, 4], "title": null}}, "y": {"field": "y", "type": "quantitative", "scale": {"domain": [0, 1]}, "axis": {"values": [0, 0.2, 0.4, 0.6, 0.8, 1], "format": "~g", "title": "P[DS≥Collapse|IM]"}}, "detail": {"field": "c", "type": "nominal"}}},
{"data": {"name": "C2"}, "width": 152, "height": 229, "mark": "line", "encoding": {"x": {"field": "x", "type": "quantitative", "scale": {"domain": [0, 4]}, "axis": {"values": [0, 2, 4], "title": null}}, "y": {"field": "y", "type": "quantitative", "scale": {"domain": [0, 1]}, "axis": {"values": [0, 0.2, 0.4, 0.6, 0.8, 1], "format": "~g", "title": null}}, "detail": {"field": "c", "type": "nominal"}}},
{"data": {"name": "C3"}, "width": 152, "height": 229, "mark": "line", "encoding": {"x": {"field": "x", "type": "quantitative", "scale": {"domain": [0, 4]}, "axis": {"values": [0, 2, 4], "title": null}}, "y": {"field": "y", "type": "quantitative", "scale": {"domain": [0, 1]}, "axis": {"values": [0, 0.2, 0.4, 0.6, 0.8, 1], "format": "~g", "title": null}}, "detail": {"field": "c", "type": "nominal"}}},
{"data": {"name": "C4"}, "width": 152, "height": 229, "mark": "line", "encoding": {"x": {"field": "x", "type": "quantitative", "scale": {"domain": [0, 4]}, "axis": {"values": [0, 2, 4], "title": null}}, "y": {"field": "y", "type": "quantitative", "scale": {"domain": [0, 1]}, "axis": {"values": [0, 0.2, 0.4, 0.6, 0.8, 1], "format": "~g", "title": null}}, "detail": {"field": "c", "type": "nominal"}}},
{"data": {"name": "C5"}, "width": 152, "height": 229, "mark": "line", "encoding": {"x": {"field": "x", "type": "quantitative", "scale": {"domain": [0, 4]}, "axis": {"values": [0, 2, 4], "title": null}}, "y": {"field": "y", "type": "quantitative", "scale": {"domain": [0, 1]}, "axis": {"values": [0, 0.2, 0.4, 0.6, 0.8, 1], "format": "~g", "title": null}}, "detail": {"field": "c", "type": "nominal"}}}
], "spacing": 48, "bounds": "flush",
"title": {"text": "Peak ground acceleration [g]", "orient": "bottom", "anchor": "middle", "frame": "bounds", "offset": 10, "fontSize": 20}}
],
"spacing": 52
}
